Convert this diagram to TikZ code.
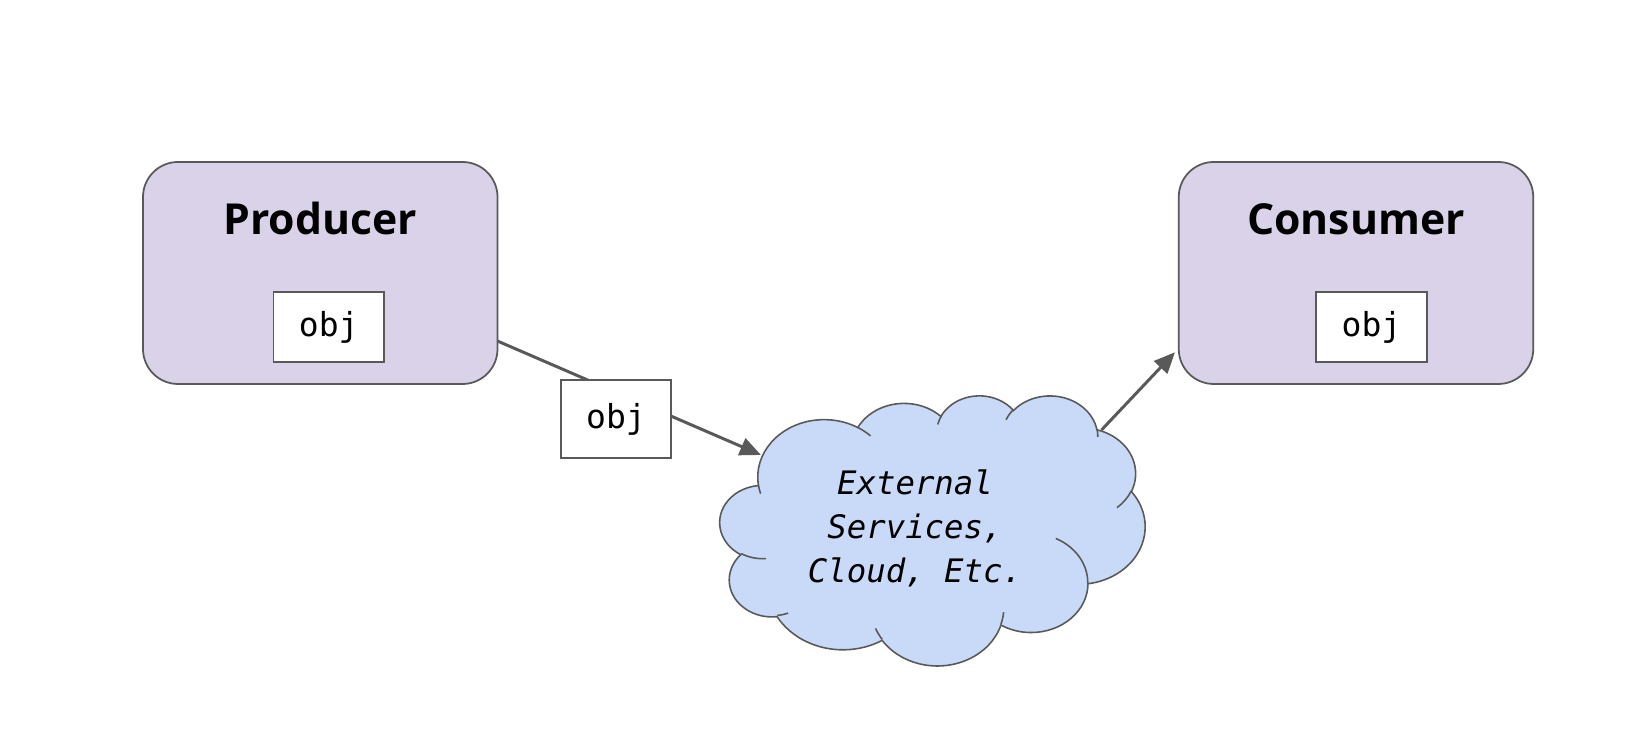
\documentclass[tikz,border=0pt]{standalone}
\usepackage{fontspec}
\usetikzlibrary{arrows.meta}
\newfontfamily\titlefont{Open Sans}
\newfontfamily\codefont{DejaVu Sans Mono}[ItalicFont={DejaVu Sans Mono Oblique}]
\definecolor{hostfill}{HTML}{D9D2E9}
\definecolor{cloudfill}{HTML}{C9DAF8}
\definecolor{edgegray}{HTML}{595959}

\begin{document}
\begin{tikzpicture}[
  host/.style      ={draw=edgegray, line width=1pt, fill=hostfill, rounded corners=0.7cm,
                     minimum width=7.09cm, minimum height=4.44cm, outer sep=0pt},
  hosttitle/.style ={font=\titlefont\bfseries\fontsize{24.3}{28}\selectfont, anchor=base},
  objbox/.style    ={draw=edgegray, line width=1pt, fill=white, inner sep=0pt,
                     minimum width=2.21cm, minimum height=1.40cm,
                     font=\codefont\fontsize{18.8}{22}\selectfont},
  cloudshape/.style={draw=edgegray, line width=0.9pt, fill=cloudfill},
  cloudarc/.style  ={draw=edgegray, line width=0.9pt},
  cloudlabel/.style={align=center, font=\codefont\itshape\fontsize{18.4}{25}\selectfont},
  conn/.style      ={draw=edgegray, line width=1.7pt},
  flow/.style      ={-{Triangle[length=0.42cm, width=0.36cm]}}]

  \useasboundingbox (0,0) rectangle (32.96,14.96);

  % ---------------- producer ----------------
  \node[host] (producer) at (6.405,9.50) {};
  \node[hosttitle] (prodtitle) at (6.405,10.26) {Producer};
  \node[objbox] (prodobj) at (6.575,8.42) {obj};

  % ---------------- consumer ----------------
  \node[host] (consumer) at (27.12,9.50) {};
  \node[hosttitle] (constitle) at (27.12,10.26) {Consumer};
  \node[objbox] (consobj) at (27.43,8.42) {obj};

  % ---------------- cloud (outline + inner puff arcs) ----------------
  \begin{scope}[shift={(14.40,7.06)}, xscale=0.19676, yscale=-0.125]
    \path[cloudshape] (3.900,14.370)
      \foreach \rx/\ry/\sa/\sw [evaluate=\sa as \ta using {atan2(\rx*sin(\sa),\ry*cos(\sa))},
                                evaluate=\sw as \te using {atan2(\rx*sin(\sa+\sw),\ry*cos(\sa+\sw))},
                                evaluate=\sw as \td using {mod(\te-\ta+720,360)}]
      in {6.753/9.190/-190.4875/123.7805, 5.333/7.267/-144.1024/89.9452,
          4.365/5.945/-145.8079/99.7230,  4.857/6.595/-130.9861/117.2417,
          5.333/7.273/-78.7089/109.0269,  6.775/9.220/-46.2673/130.2690,
          5.785/7.867/0.6250/114.0333,    6.752/9.215/22.4516/115.1726,
          7.720/10.543/66.2426/75.7110,   4.360/5.918/-274.9421/146.7356,
          4.345/5.945/-246.8285/152.5189}
      { arc[x radius=\rx, y radius=\ry, start angle=\ta, delta angle=\td] } -- cycle;
    \path[cloudarc]
      \foreach \px/\py/\rx/\ry/\sa/\sw [evaluate=\sa as \ta using {atan2(\rx*sin(\sa),\ry*cos(\sa))},
                                        evaluate=\sw as \te using {atan2(\rx*sin(\sa+\sw),\ry*cos(\sa+\sw))},
                                        evaluate=\sw as \td using {mod(\te-\ta+720,360)}]
      in {4.693/26.177/4.345/5.945/86.7420/26.4295,   6.928/34.899/4.360/5.918/73.6105/11.4475,
          16.478/39.090/6.752/9.215/137.6242/14.0811, 28.827/34.751/6.752/9.215/6.4533/15.9984,
          34.129/22.954/5.785/7.867/-70.2924/70.9174, 41.798/15.354/5.333/7.273/30.3180/27.7515,
          38.324/5.426/4.857/6.595/-13.7443/14.8589,  29.078/3.952/4.857/6.595/-149.1815/18.1954,
          22.141/4.720/4.365/5.945/-163.4943/17.6864, 14.000/5.192/6.753/9.190/-66.7070/12.3194,
          4.127/15.789/6.753/9.190/157.6544/11.8582}
      { (\px,\py) arc[x radius=\rx, y radius=\ry, start angle=\ta, delta angle=\td] };
  \end{scope}
  \node[cloudlabel] (cloudtext) at (18.30,4.40) {External\\Services,\\Cloud, Etc.};
  \coordinate (cloudin)  at (15.22,5.86);
  \coordinate (cloudout) at (22.03,6.36);

  % ---------------- connectors ----------------
  \draw[conn, flow] (producer.-21.83) -- (cloudin);
  \node[objbox, minimum width=2.20cm, minimum height=1.56cm] (objmid) at (12.32,6.58) {obj};
  \draw[conn, flow, shorten >=0.11cm] (cloudout) -- (consumer.203.66);
\end{tikzpicture}
\end{document}
